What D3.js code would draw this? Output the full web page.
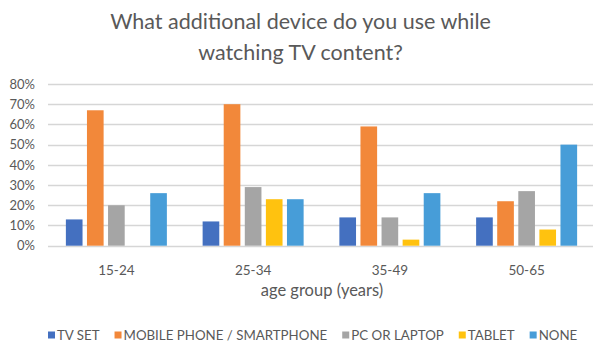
<!DOCTYPE html>
<html>
<head>
<meta charset="utf-8">
<script src="https://cdn.jsdelivr.net/npm/d3@7"></script>
<style>
  html, body { margin: 0; padding: 0; background: #fff; }
  svg { display: block; font-family: Lato, "Open Sans", sans-serif; }
</style>
</head>
<body>
<svg id="chart" width="593" height="343"></svg>
<script>
// Survey data: share of respondents per age group using each extra device
const titleLines = ["What additional device do you use while", "watching TV content?"];
const ageGroups = ["15-24", "25-34", "35-49", "50-65"];
const devices = ["TV SET", "MOBILE PHONE / SMARTPHONE", "PC OR LAPTOP", "TABLET", "NONE"];
const tvSet = [13, 12, 14, 14];
const mobile = [67, 70, 59, 22];
const pcLaptop = [20, 29, 14, 27];
const tablet = [0, 23, 3, 8];
const noneUsed = [26, 23, 26, 50];
const yTicks = [0, 10, 20, 30, 40, 50, 60, 70, 80];
const xAxisTitle = "age group (years)";
const deviceColors = ["#4470c0", "#f2883a", "#a5a5a5", "#ffc20f", "#479dd8"];

const seriesValues = [tvSet, mobile, pcLaptop, tablet, noneUsed];

const svg = d3.select("#chart");
const W = 593, H = 343;
const margin = { left: 48, right: -2, top: 84, bottom: 97 };

// Title
svg.append("g").selectAll("text")
  .data(titleLines)
  .join("text")
  .attr("x", W / 2 + 4)
  .attr("y", (d, i) => 29 + i * 31)
  .attr("text-anchor", "middle")
  .attr("fill", "#595959")
  .attr("font-size", 21.5)
  .text(d => d);

const x0 = d3.scaleBand()
  .domain(ageGroups)
  .range([margin.left, W - margin.right])
  .paddingInner(0)
  .paddingOuter(0);

const x1 = d3.scaleBand()
  .domain(devices)
  .range([0, 101])
  .paddingInner(0.21)
  .paddingOuter(0);

const y = d3.scaleLinear()
  .domain([0, 80])
  .range([H - margin.bottom - 0.3, margin.top]);

// Horizontal gridlines
svg.append("g")
  .selectAll("line")
  .data(yTicks)
  .join("line")
  .attr("x1", margin.left)
  .attr("x2", W)
  .attr("y1", d => Math.round(y(d)) + 0.5)
  .attr("y2", d => Math.round(y(d)) + 0.5)
  .attr("stroke", "#d6d6d6")
  .attr("stroke-width", 1.3);

// Y axis tick labels
const yAxis = d3.axisLeft(y)
  .tickValues(yTicks)
  .tickFormat(d => d + "%")
  .tickSize(0)
  .tickPadding(0);
const yg = svg.append("g")
  .attr("transform", `translate(${35},0)`)
  .call(yAxis);
yg.select(".domain").remove();
yg.selectAll("text")
  .attr("fill", "#595959")
  .attr("font-size", 13)
  .attr("font-family", "Lato, 'Open Sans', sans-serif");

// Bars
const groups = svg.append("g")
  .selectAll("g")
  .data(ageGroups)
  .join("g")
  .attr("transform", g => `translate(${x0(g) + x0.bandwidth() / 2 - 50.5},0)`);

groups.selectAll("rect")
  .data((g, gi) => devices.map((dev, di) => ({ dev, di, v: seriesValues[di][gi] })))
  .join("rect")
  .attr("x", d => x1(d.dev))
  .attr("width", x1.bandwidth())
  .attr("y", d => y(d.v))
  .attr("height", d => y(0) - y(d.v))
  .attr("fill", d => deviceColors[d.di]);

// X axis category labels
const xAxis = d3.axisBottom(x0).tickSize(0).tickPadding(0);
const xg = svg.append("g")
  .attr("transform", `translate(0,${265})`)
  .call(xAxis);
xg.select(".domain").remove();
xg.selectAll("text")
  .attr("fill", "#595959")
  .attr("font-size", 13.5)
  .attr("font-family", "Lato, 'Open Sans', sans-serif");

// X axis title
svg.append("text")
  .attr("x", 322)
  .attr("y", 296)
  .attr("text-anchor", "middle")
  .attr("fill", "#595959")
  .attr("font-size", 16.5)
  .text(xAxisTitle);

// Legend laid out left-to-right from measured text widths
const legend = svg.append("g");
let lx = 48;
const ly = 335;
devices.forEach((dev, i) => {
  legend.append("rect")
    .attr("x", lx)
    .attr("y", ly - 3.5)
    .attr("width", 7)
    .attr("height", 7)
    .attr("fill", deviceColors[i]);
  const t = legend.append("text")
    .attr("x", lx + 9)
    .attr("y", ly + 4.6)
    .attr("fill", "#595959")
    .attr("font-size", 13.3)
    .text(dev);
  lx += 9 + t.node().getComputedTextLength() + 15;
});
</script>
</body>
</html>
